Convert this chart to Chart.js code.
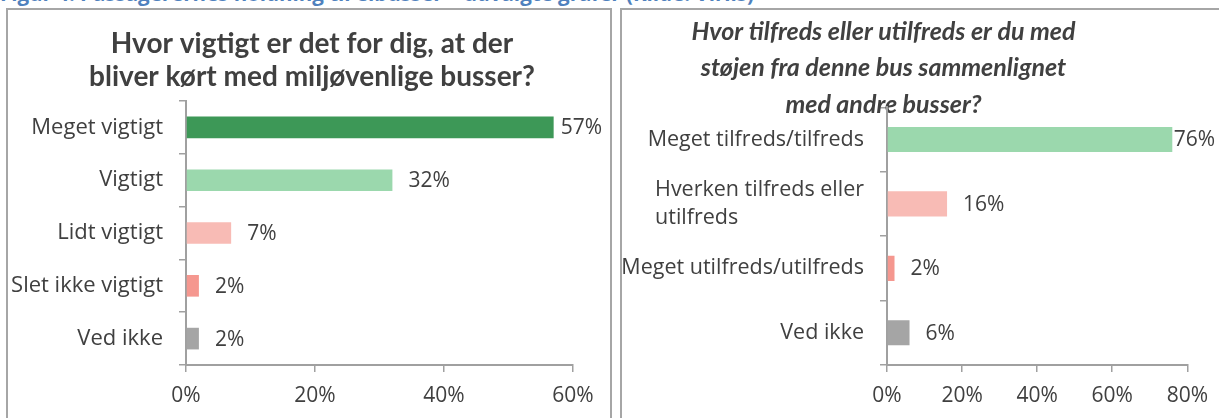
<!DOCTYPE html>
<html><head><meta charset="utf-8">
<script src="https://cdn.jsdelivr.net/npm/chart.js@4.4.0/dist/chart.umd.min.js"></script>
<style>
html,body{margin:0;padding:0;background:#fff;width:1219px;height:418px;overflow:hidden;position:relative;}
#caption{position:absolute;left:0;top:-20px;font:bold 20.5px 'Open Sans',sans-serif;line-height:27px;color:#4f81bd;white-space:nowrap;}
.panel{position:absolute;border:2px solid #a6a6a6;box-sizing:content-box;background:#fff;}
#p1{left:6px;top:8px;width:602px;height:420px;}
#p2{left:620px;top:8px;width:640px;height:420px;}
canvas{position:absolute;left:0;top:0;}
</style></head><body>
<div id="caption">Figur 4: Passagerernes holdning til elbusser – udvalgte grafer (Kilde: Viriis)</div>
<div class="panel" id="p1"><canvas id="c1" width="602" height="408"></canvas></div>
<div class="panel" id="p2"><canvas id="c2" width="597" height="408"></canvas></div>
<script>
// ---- data ----
const title1 = ['Hvor vigtigt er det for dig, at der', 'bliver kørt med miljøvenlige busser?'];
const cats1 = ['Meget vigtigt', 'Vigtigt', 'Lidt vigtigt', 'Slet ikke vigtigt', 'Ved ikke'];
const vals1 = [57, 32, 7, 2, 2];
const colors1 = ['#3d9857', '#9bd8ad', '#f8bbb5', '#f5978f', '#a5a5a5'];
const ticks1 = [0, 20, 40, 60];

const title2 = ['Hvor tilfreds eller utilfreds er du med', 'støjen fra denne bus sammenlignet', 'med andre busser?'];
const cats2 = ['Meget tilfreds/tilfreds', ['Hverken tilfreds eller', 'utilfreds'], 'Meget utilfreds/utilfreds', 'Ved ikke'];
const vals2 = [76, 16, 2, 6];
const colors2 = ['#9bd8ad', '#f8bbb5', '#f5978f', '#a5a5a5'];
const ticks2 = [0, 20, 40, 60, 80];

// ---- styling ----
const TXT = '#404040';
const AX = '#a0a0a0';
const FAM = "'Open Sans', sans-serif";
const TFAM = "Lato, 'Open Sans', sans-serif";

const catLabelPlugin = {
  id: 'catLabels',
  afterDraw(chart, args, o) {
    const ctx = chart.ctx, ys = chart.scales.y;
    ctx.save();
    ctx.font = o.font; ctx.fillStyle = o.color;
    ctx.textBaseline = 'middle'; ctx.textAlign = 'left';
    chart.data.labels.forEach((lab, i) => {
      const lines = Array.isArray(lab) ? lab : [lab];
      const w = Math.max(...lines.map(l => ctx.measureText(l).width));
      const xr = chart.chartArea.left - o.gap;
      const cy = ys.getPixelForValue(i);
      const n = lines.length;
      lines.forEach((l, j) => ctx.fillText(l, xr - w, cy + (j - (n - 1) / 2) * o.lineHeight));
    });
    ctx.restore();
  }
};
const valueLabelPlugin = {
  id: 'valLabels',
  afterDatasetsDraw(chart, args, o) {
    const ctx = chart.ctx;
    const meta = chart.getDatasetMeta(0);
    ctx.save();
    ctx.font = o.font; ctx.fillStyle = o.color;
    ctx.textBaseline = 'middle'; ctx.textAlign = 'left';
    meta.data.forEach((bar, i) => {
      const t = chart.data.datasets[0].data[i] + '%';
      const w = ctx.measureText(t).width;
      let x = bar.x + o.gap;
      if (x + w > chart.width - o.margin) x = chart.width - o.margin - w;
      ctx.fillText(t, x, bar.y + o.dy);
    });
    ctx.restore();
  }
};

function makeChart(id, title, cats, vals, colors, ticks, cfg) {
  return new Chart(document.getElementById(id), {
    type: 'bar',
    data: { labels: cats, datasets: [{ data: vals, backgroundColor: colors, barPercentage: cfg.barPct, categoryPercentage: 1 }] },
    options: {
      indexAxis: 'y', responsive: false, animation: false,
      layout: { padding: { left: cfg.padLeft, right: cfg.padRight, top: 0, bottom: 0 } },
      plugins: {
        legend: { display: false }, tooltip: { enabled: false },
        title: { display: true, text: title, color: TXT,
          font: { family: TFAM, size: cfg.titleSize, weight: 'bold', style: cfg.titleStyle, lineHeight: cfg.titleLH },
          padding: { top: cfg.titlePadTop, bottom: cfg.titlePadBottom } },
        catLabels: { font: cfg.labelSize + 'px ' + FAM, color: TXT, gap: 23, lineHeight: 28 },
        valLabels: { font: '21px ' + FAM, color: TXT, gap: 16, margin: cfg.labelMargin, dy: 1 }
      },
      scales: {
        x: {
          min: 0, max: ticks[ticks.length - 1],
          afterBuildTicks: s => { s.ticks = ticks.map(v => ({ value: v })); },
          ticks: { callback: v => v + '%', color: TXT, font: { family: FAM, size: 21 }, padding: 11 },
          grid: { drawOnChartArea: false, drawTicks: true, tickLength: 7, color: AX, lineWidth: 1.5 },
          border: { display: true, color: AX, width: 2 },
          afterFit: s => { s.height = cfg.xHeight; }
        },
        y: {
          ticks: { display: false },
          grid: { drawOnChartArea: false, drawTicks: true, tickLength: 7, color: AX, lineWidth: 1.5 },
          border: { display: true, color: AX, width: 2 },
          afterFit: s => { s.width = cfg.yWidth; }
        }
      }
    },
    plugins: [catLabelPlugin, valueLabelPlugin]
  });
}

function draw() {
  makeChart('c1', title1, cats1, vals1, colors1, ticks1, {
    barPct: 0.41, padLeft: 43, padRight: 37, titleSize: 28, titleStyle: 'normal', titleLH: 33 / 28,
    titlePadTop: 17.5, titlePadBottom: 7.5, labelMargin: 8, xHeight: 53, yWidth: 135, labelSize: 22
  });
  makeChart('c2', title2, cats2, vals2, colors2, ticks2, {
    barPct: 0.39, padLeft: -43, padRight: 31, titleSize: 25, titleStyle: 'italic', titleLH: 36.5 / 25,
    titlePadTop: 3.5, titlePadBottom: -15.7, labelMargin: 4, xHeight: 53, yWidth: 308, labelSize: 21.5
  });
}
Promise.all([
  document.fonts.load("20px 'Open Sans'"),
  document.fonts.load("bold 28px Lato"),
  document.fonts.load("italic bold 25px Lato")
]).then(draw, draw);
</script>
</body></html>
